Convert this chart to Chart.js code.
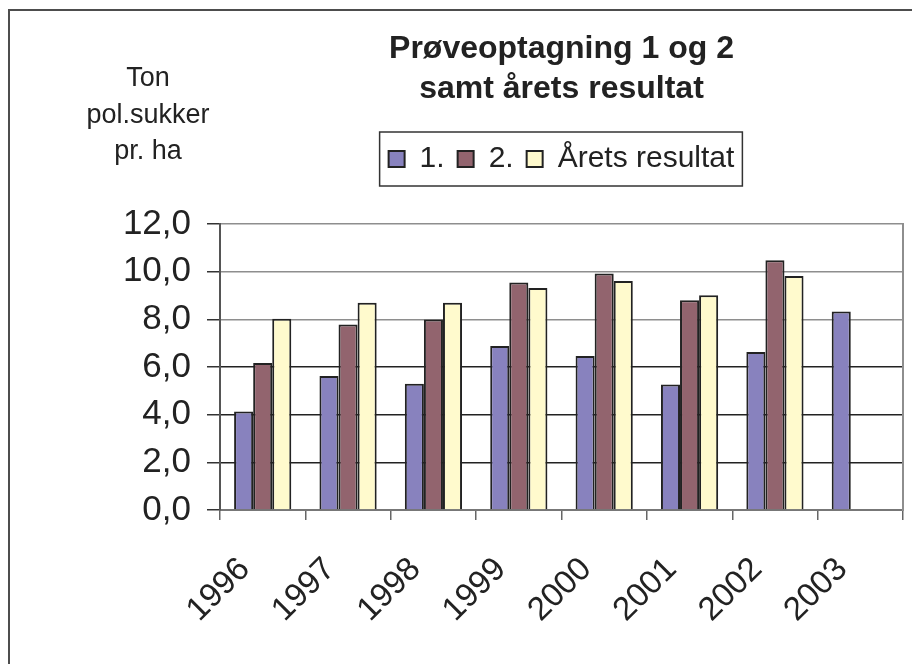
<!DOCTYPE html>
<html><head><meta charset="utf-8">
<script src="https://cdn.jsdelivr.net/npm/chart.js@4.4.1/dist/chart.umd.min.js"></script>
<style>
html,body{margin:0;padding:0;background:#fff;overflow:hidden;width:912px;height:664px}
#frame{position:absolute;left:8px;top:9px;width:1000px;height:1000px;border:2px solid #4d4d4d;box-sizing:border-box}
#wrap{position:absolute;left:0;top:0;width:912px;height:664px}
</style></head>
<body>
<div id="frame"></div>
<div id="wrap"><canvas id="c" width="912" height="664"></canvas></div>
<script>
const categories = ['1996','1997','1998','1999','2000','2001','2002','2003'];
const series1 = [4.13, 5.62, 5.30, 6.88, 6.46, 5.27, 6.63, 8.33];
const series2 = [6.17, 7.78, 7.99, 9.55, 9.92, 8.80, 10.48, null];
const series3 = [8.02, 8.70, 8.70, 9.31, 9.61, 9.01, 9.82, null];
const seriesNames = ['1.', '2.', 'Årets resultat'];
const titleLines = ['Prøveoptagning 1 og 2', 'samt årets resultat'];
const unitLines = ['Ton', 'pol.sukker', 'pr. ha'];
const yTickLabels = ['0,0', '2,0', '4,0', '6,0', '8,0', '10,0', '12,0'];

const FONT = '"Liberation Sans", Arial, Helvetica, sans-serif';

const legendBorder = {
  id: 'legendBorder',
  afterDraw(chart) {
    const hb = chart.legend && chart.legend.legendHitBoxes;
    if (!hb || !hb.length) return;
    const first = hb[0], last = hb[hb.length - 1];
    const left = first.left - 9;
    const right = last.left + last.width + 8;
    const cy = first.top + first.height / 2;
    const ctx = chart.ctx;
    ctx.save();
    ctx.strokeStyle = '#333';
    ctx.lineWidth = 1.5;
    ctx.strokeRect(left, cy - 27, right - left, 54);
    ctx.restore();
  }
};

const unitLabel = {
  id: 'unitLabel',
  afterDraw(chart) {
    const ctx = chart.ctx;
    ctx.save();
    ctx.font = '27px ' + FONT;
    ctx.fillStyle = '#222';
    ctx.textAlign = 'center';
    ctx.textBaseline = 'alphabetic';
    const x = chart.chartArea.left - 72;
    unitLines.forEach((t, i) => ctx.fillText(t, x, 86 + i * 36.5));
    ctx.restore();
  }
};

const colors = ['#8882BE', '#92646E', '#FFFACD'];
const seriesData = [series1, series2, series3];

new Chart(document.getElementById('c'), {
  type: 'bar',
  data: {
    labels: categories,
    datasets: seriesData.map((d, i) => ({
      label: seriesNames[i],
      data: d,
      backgroundColor: colors[i],
      borderColor: '#222',
      borderWidth: 2,
      categoryPercentage: 0.67,
      barPercentage: 1.0,
      yAxisID: 'y'
    }))
  },
  options: {
    responsive: false,
    animation: false,
    devicePixelRatio: 1,
    layout: { padding: { top: 29, left: 0, right: 9, bottom: 0 } },
    plugins: {
      title: {
        display: true,
        text: titleLines,
        fullSize: false,
        color: '#222',
        font: { family: FONT, size: 32, weight: 'bold', lineHeight: 1.25 },
        padding: { top: 0, bottom: 22 }
      },
      subtitle: {
        display: true,
        text: [' '],
        fullSize: false,
        weight: 500,
        font: { size: 1, lineHeight: 1 },
        padding: { top: 0, bottom: 39 }
      },
      legend: {
        display: true,
        fullSize: false,
        position: 'top',
        weight: 1000,
        labels: {
          color: '#222',
          font: { family: FONT, size: 30 },
          boxWidth: 16,
          boxHeight: 16,
          padding: 13
        }
      },
      tooltip: { enabled: false }
    },
    scales: {
      x: {
        offset: true,
        grid: {
          offset: true,
          drawOnChartArea: false,
          drawTicks: true,
          tickLength: 10,
          tickColor: '#666',
          lineWidth: 1.5
        },
        border: { display: true, color: '#777', width: 2 },
        ticks: {
          color: '#222',
          font: { family: FONT, size: 33 },
          minRotation: 45,
          maxRotation: 45,
          padding: 30,
          labelOffset: -18,
          autoSkip: false
        },
        afterFit(s) { s.height = 154; s.paddingRight = 0; s.paddingLeft = 0; }
      },
      y: {
        min: 0,
        max: 12,
        position: 'left',
        ticks: {
          stepSize: 2,
          color: '#222',
          font: { family: FONT, size: 35 },
          padding: 16,
          callback: (v) => yTickLabels[Math.round(v / 2)]
        },
        grid: {
          color: (c) => (c.tick && c.tick.value >= 8 ? '#8e8e8e' : '#222'),
          lineWidth: 1.5,
          tickLength: 13,
          tickColor: '#333'
        },
        border: { display: true, color: '#555', width: 2 },
        afterFit(s) { s.width = 220; s.paddingTop = 0; s.paddingBottom = 0; }
      },
      y2: {
        position: 'right',
        min: 0,
        max: 12,
        ticks: { display: false },
        grid: { drawOnChartArea: false, drawTicks: false },
        border: { display: true, color: '#8e8e8e', width: 2 },
        afterFit(s) { s.width = 0; s.paddingTop = 0; s.paddingBottom = 0; }
      }
    }
  },
  plugins: [legendBorder, unitLabel]
});
</script>
</body></html>
